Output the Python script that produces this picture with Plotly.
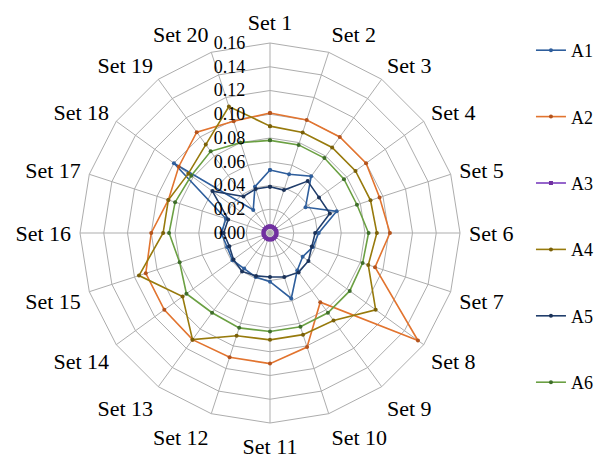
import plotly.graph_objects as go

# Category labels around the radar
sets = ["Set 1", "Set 2", "Set 3", "Set 4", "Set 5", "Set 6", "Set 7",
        "Set 8", "Set 9", "Set 10", "Set 11", "Set 12", "Set 13", "Set 14",
        "Set 15", "Set 16", "Set 17", "Set 18", "Set 19", "Set 20"]

# Series values per set
a1 = [0.053, 0.052, 0.059, 0.037, 0.059, 0.041, 0.038, 0.034, 0.039, 0.058,
      0.041, 0.039, 0.037, 0.039, 0.038, 0.041, 0.039, 0.100, 0.024, 0.041]
a2 = [0.101, 0.100, 0.100, 0.100, 0.097, 0.101, 0.093, 0.154, 0.072, 0.101,
      0.110, 0.110, 0.111, 0.110, 0.110, 0.100, 0.090, 0.095, 0.105, 0.099]
a3 = [0.0055, 0.0055, 0.0055, 0.0055, 0.0055, 0.0055, 0.0055, 0.0055, 0.0055, 0.0055,
      0.0055, 0.0055, 0.0055, 0.0055, 0.0055, 0.0055, 0.0055, 0.0055, 0.0055, 0.0055]
a4 = [0.090, 0.089, 0.089, 0.089, 0.089, 0.090, 0.087, 0.110, 0.091, 0.090,
      0.090, 0.091, 0.111, 0.091, 0.116, 0.090, 0.090, 0.085, 0.092, 0.112]
a5 = [0.039, 0.038, 0.054, 0.051, 0.053, 0.038, 0.037, 0.040, 0.041, 0.039,
      0.037, 0.038, 0.040, 0.038, 0.036, 0.039, 0.037, 0.060, 0.038, 0.039]
a6 = [0.078, 0.078, 0.078, 0.077, 0.077, 0.083, 0.082, 0.083, 0.083, 0.083,
      0.083, 0.084, 0.083, 0.087, 0.080, 0.085, 0.084, 0.082, 0.085, 0.080]

radial_ticks = [0.00, 0.02, 0.04, 0.06, 0.08, 0.10, 0.12, 0.14, 0.16]

series = [
    ("A1", a1, "#2E5E9C", "#2E5E9C", "circle", 4),
    ("A2", a2, "#E2742F", "#B4531C", "circle", 4),
    ("A3", a3, "#7B3FBF", "#7030A0", "square", 4),
    ("A4", a4, "#977A0C", "#7A6008", "circle", 4),
    ("A5", a5, "#213E6C", "#1B3258", "circle", 4),
    ("A6", a6, "#6BA043", "#3F6E2A", "circle", 4),
]

fig = go.Figure()
for name, vals, lc, mc, sym, ms in series:
    fig.add_trace(go.Scatterpolar(
        r=vals + vals[:1],
        theta=sets + sets[:1],
        mode="lines+markers",
        name=name,
        legendgroup=name,
        line=dict(color=lc, width=1.6),
        marker=dict(color=mc, size=ms, symbol=sym),
    ))

grid = "#ADADAD"
fig.update_layout(
    width=602, height=458,
    margin=dict(l=0, r=0, t=0, b=0),
    paper_bgcolor="white",
    plot_bgcolor="white",
    font=dict(family="Liberation Serif", color="black"),
    polar=dict(
        domain=dict(x=[80 / 602, 460 / 602], y=[35 / 458, 415 / 458]),
        bgcolor="white",
        gridshape="linear",
        angularaxis=dict(
            direction="clockwise", rotation=90,
            categoryorder="array", categoryarray=sets,
            gridcolor=grid, linecolor=grid, showline=True,
            ticks="outside", ticklen=4, tickcolor="rgba(0,0,0,0)",
            tickfont=dict(size=22, color="black"),
        ),
        radialaxis=dict(
            range=[0, 0.16], tickvals=radial_ticks, tickformat=".2f",
            angle=90, side="counterclockwise", tickangle=90,
            gridcolor=grid, showline=False,
            ticks="outside", ticklen=18, tickcolor="rgba(0,0,0,0)",
            tickfont=dict(size=18, color="black"),
        ),
    ),
    legend=dict(
        x=0.882, y=1 - 32 / 458, xanchor="left", yanchor="top",
        font=dict(size=18, color="black"),
        tracegroupgap=40, bgcolor="rgba(0,0,0,0)",
    ),
)

fig.write_html("out.html")
